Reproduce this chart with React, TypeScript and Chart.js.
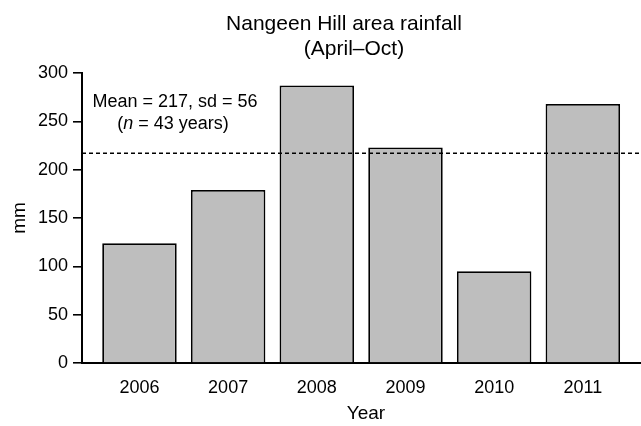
import React, { useEffect, useRef } from "react";
import { Chart, registerables } from "chart.js";

Chart.register(...registerables);

const years = [2006, 2007, 2008, 2009, 2010, 2011];
const rainfall = [124, 179, 287, 223, 95, 268];
const yTicks = [0, 50, 100, 150, 200, 250, 300];
const meanRainfall = 217;
const titleLines = ["Nangeen Hill area rainfall", "(April\u2013Oct)"];
const annotationLine1 = "Mean = 217, sd = 56";
const annotationLine2 = ["(", "n", " = 43 years)"];
const xTitle = "Year";
const yTitle = "mm";

const FONT = '"Liberation Sans", Arial, Helvetica, sans-serif';

const overlayPlugin = {
  id: "overlay",
  afterDatasetsDraw(chart: any) {
    const { ctx, chartArea, scales } = chart;
    const y = scales.y.getPixelForValue(meanRainfall);
    ctx.save();
    ctx.strokeStyle = "#000";
    ctx.lineWidth = 1.6;
    ctx.setLineDash([4, 3]);
    ctx.beginPath();
    ctx.moveTo(chartArea.left, y);
    ctx.lineTo(chartArea.right, y);
    ctx.stroke();
    ctx.restore();
  },
  afterDraw(chart: any) {
    const { ctx, chartArea } = chart;
    ctx.save();
    ctx.fillStyle = "#000";
    ctx.textBaseline = "alphabetic";
    // Title
    ctx.font = `21px ${FONT}`;
    ctx.textAlign = "center";
    ctx.fillText(titleLines[0], 344, 30);
    ctx.fillText(titleLines[1], 354, 55);
    // Annotation
    ctx.font = `18px ${FONT}`;
    ctx.fillText(annotationLine1, 175, 107);
    const normal = `18px ${FONT}`;
    const italic = `italic 18px ${FONT}`;
    const widths = annotationLine2.map((s, i) => {
      ctx.font = i === 1 ? italic : normal;
      return ctx.measureText(s).width;
    });
    const total = widths.reduce((a, b) => a + b, 0);
    let x = 173 - total / 2;
    ctx.textAlign = "left";
    annotationLine2.forEach((s, i) => {
      ctx.font = i === 1 ? italic : normal;
      ctx.fillText(s, x, 129);
      x += widths[i];
    });
    // Axis titles
    ctx.font = `19px ${FONT}`;
    ctx.textAlign = "center";
    ctx.fillText(xTitle, 366, 419);
    ctx.save();
    ctx.translate(25, (chartArea.top + chartArea.bottom) / 2);
    ctx.rotate(-Math.PI / 2);
    ctx.fillText(yTitle, 0, 0);
    ctx.restore();
    ctx.restore();
  },
};

export default function App() {
  const canvasRef = useRef<HTMLCanvasElement | null>(null);

  useEffect(() => {
    document.body.style.margin = "0";
    const canvas = canvasRef.current;
    if (!canvas) return;
    const chart = new Chart(canvas, {
      type: "bar",
      data: {
        datasets: [
          {
            data: years.map((yr, i) => ({ x: yr, y: rainfall[i] })),
            backgroundColor: "#bebebe",
            borderColor: "#000",
            borderWidth: 1.8,
            barPercentage: 0.84,
            categoryPercentage: 1,
          },
        ],
      },
      options: {
        responsive: false,
        animation: false,
        devicePixelRatio: 1,
        layout: { padding: { top: 73, left: 0, right: 0, bottom: 0 } },
        plugins: {
          legend: { display: false },
          title: { display: false },
          tooltip: { enabled: false },
        },
        font: { family: FONT },
        scales: {
          x: {
            type: "linear",
            offset: false,
            min: 2005.352,
            max: 2011.656,
            afterBuildTicks: (scale: any) => {
              scale.ticks = years.map((v) => ({ value: v }));
            },
            afterFit: (scale: any) => {
              scale.height = 63;
            },
            grid: { display: false, drawTicks: false, tickLength: 0, offset: false },
            border: { display: true, color: "#000", width: 2 },
            ticks: {
              color: "#000",
              font: { family: FONT, size: 18 },
              padding: 14,
              maxRotation: 0,
              autoSkip: false,
              callback: (v: any) => String(v),
            },
          },
          y: {
            min: 0,
            max: 300,
            afterBuildTicks: (scale: any) => {
              scale.ticks = yTicks.map((v) => ({ value: v }));
            },
            afterFit: (scale: any) => {
              scale.width = 82;
            },
            grid: {
              display: true,
              drawOnChartArea: false,
              drawTicks: true,
              tickLength: 9,
              color: "#000",
              lineWidth: 1.6,
            },
            border: { display: true, color: "#000", width: 2 },
            ticks: {
              color: "#000",
              font: { family: FONT, size: 18 },
              padding: 5,
            },
          },
        },
      },
      plugins: [overlayPlugin],
    } as any);
    return () => chart.destroy();
  }, []);

  return (
    <div style={{ width: 641, height: 426 }}>
      <canvas ref={canvasRef} width={641} height={426} style={{ display: "block" }} />
    </div>
  );
}
